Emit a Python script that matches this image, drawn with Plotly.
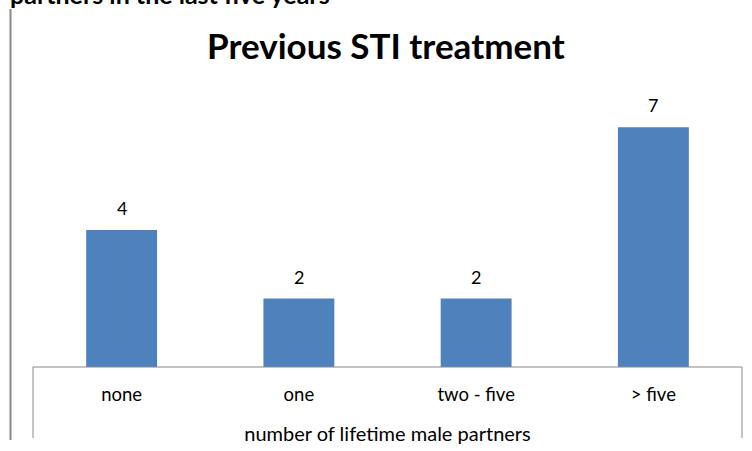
import plotly.graph_objects as go

categories = ["none", "one", "two - five", "> five"]
values = [4, 2, 2, 7]
title_text = "Previous STI treatment"
x_title = "number of lifetime male partners"
cut_text = "partners in the last five years"

FONT = "Lato, Carlito, Calibri, sans-serif"
BAR = "#4F81BD"

W_FIG, H_FIG = 752, 451
L, R, T, B = 33, 10, 93, 84
W = W_FIG - L - R
H = H_FIG - T - B

fig = go.Figure()
fig.add_trace(go.Bar(
    x=categories, y=values, marker=dict(color=BAR, line=dict(width=0)),
    width=0.4, hoverinfo="skip",
))
for c, v in zip(categories, values):
    fig.add_annotation(x=c, y=v, text=str(v), showarrow=False, yanchor="bottom",
                       yshift=9, font=dict(family=FONT, size=18, color="#000"))

fig.update_layout(
    width=W_FIG, height=H_FIG,
    margin=dict(l=L, r=R, t=T, b=B),
    paper_bgcolor="white", plot_bgcolor="white",
    showlegend=False,
    xaxis=dict(
        showgrid=False, showline=False, zeroline=False, ticks="",
        tickfont=dict(family=FONT, size=18.5, color="#000"),
        ticklabelstandoff=14,
        title=dict(text=x_title, font=dict(family=FONT, size=20, color="#000"), standoff=23),
        fixedrange=True,
    ),
    yaxis=dict(range=[0, 8], visible=False, fixedrange=True),
)

# title
fig.add_annotation(x=(386 - L) / W, xref="paper", y=(367 - 45) / H, yref="paper",
                   yanchor="middle", text=f"<b>{title_text}</b>",
                   showarrow=False, font=dict(family=FONT, size=35, color="#000"))

# frame lines
fig.add_shape(type="line", xref="paper", yref="paper", x0=0, x1=1, y0=0, y1=0,
              line=dict(color="#888", width=1))
fig.add_shape(type="line", xref="paper", yref="paper", x0=0, x1=0, y0=0, y1=-(438 - 367) / H,
              line=dict(color="#888", width=1))
fig.add_shape(type="line", xref="paper", yref="paper", x0=1, x1=1, y0=0, y1=-(438 - 367) / H,
              line=dict(color="#888", width=1))
fig.add_shape(type="line", xref="paper", yref="paper", x0=-(L - 10.5) / W, x1=-(L - 10.5) / W,
              y0=(367 - 9) / H, y1=-(440 - 367) / H, line=dict(color="#888", width=2))
# cut-off text at top
fig.add_annotation(x=-(L - 8) / W, xref="paper", xanchor="left", y=(367 - 11) / H, yref="paper",
                   yanchor="bottom", text=f"<b>{cut_text}</b>", showarrow=False,
                   font=dict(family=FONT, size=25, color="#000"))

fig.write_html("out.html", config={"displayModeBar": False},
               post_script="document.body.style.margin='0';document.body.style.overflow='hidden';")
